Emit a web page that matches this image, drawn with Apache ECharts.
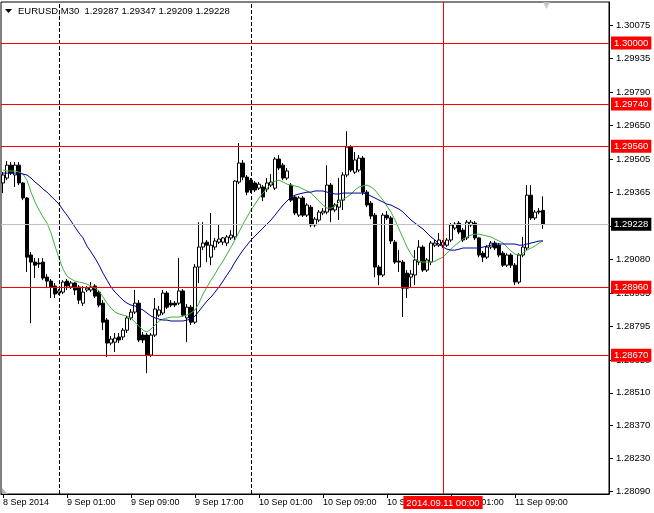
<!DOCTYPE html>
<html><head><meta charset="utf-8">
<script src="https://cdn.jsdelivr.net/npm/echarts@6/dist/echarts.min.js"></script>
<style>html,body{margin:0;padding:0;background:#fff}#c{width:654px;height:513px}</style>
</head><body><div id="c"></div>
<script>
// ---- data (EURUSD, M30, first bar 8 Sep 17:00) ----
const symbolTitle = 'EURUSD,M30  1.29287 1.29347 1.29209 1.29228';
const xTickCats   = ['8 Sep 17:00','9 Sep 01:00','9 Sep 09:00','9 Sep 17:00','10 Sep 01:00','10 Sep 09:00','10 Sep 17:00','11 Sep 01:00','11 Sep 09:00'];
const xTickLabels = ['8 Sep 2014','9 Sep 01:00','9 Sep 09:00','9 Sep 17:00','10 Sep 01:00','10 Sep 09:00','10 Sep 17:00','11 Sep 01:00','11 Sep 09:00'];
const yTicks = [1.30075,1.29935,1.29790,1.29650,1.29505,1.29365,1.29220,1.29080,1.28935,1.28795,1.28650,1.28510,1.28370,1.28230,1.28090];
const priceLevels = [1.30000,1.29740,1.29560,1.28960,1.28670];
const bidPrice = 1.29228;
const daySeparators = ['9 Sep 00:00','10 Sep 00:00'];
const crosshairCat = '11 Sep 00:00';
const crosshairLabel = '2014.09.11 00:00';

const open = [
1.29404,1.29425,1.29480,1.29438,1.29480,1.29404,1.29340,1.29097,1.29067,1.29063,
1.29067,1.29003,1.28986,1.28965,1.28935,1.28939,1.28986,1.28961,1.28978,1.28961,
1.28892,1.28948,1.28948,1.28965,1.28939,1.28892,1.28820,1.28722,1.28726,1.28748,
1.28748,1.28777,1.28829,1.28854,1.28892,1.28756,1.28756,1.28671,1.28756,1.28841,
1.28850,1.28935,1.28892,1.28892,1.28892,1.28944,1.28829,1.28875,1.28811,1.29046,
1.29131,1.29152,1.29088,1.29131,1.29152,1.29152,1.29148,1.29170,1.29174,1.29408,
1.29489,1.29429,1.29416,1.29404,1.29382,1.29387,1.29378,1.29395,1.29382,1.29506,
1.29480,1.29425,1.29395,1.29344,1.29267,1.29340,1.29267,1.29301,1.29225,1.29246,
1.29276,1.29280,1.29395,1.29289,1.29301,1.29331,1.29438,1.29557,1.29450,1.29459,
1.29510,1.29365,1.29318,1.29267,1.29046,1.29012,1.29267,1.29255,1.29152,1.29071,
1.29067,1.29020,1.29003,1.29012,1.29067,1.29131,1.29033,1.29067,1.29139,1.29139,
1.29139,1.29139,1.29161,1.29212,1.29233,1.29203,1.29170,1.29225,1.29233,1.29170,
1.29105,1.29088,1.29131,1.29148,1.29139,1.29105,1.29054,1.29097,1.29054,1.28982,
1.29097,1.29127,1.29352,1.29255,1.29284,1.29287];
const high = [
1.29450,1.29497,1.29493,1.29493,1.29493,1.29408,1.29344,1.29110,1.29084,1.29084,
1.29084,1.29016,1.28995,1.28978,1.28952,1.28990,1.28995,1.28986,1.28982,1.28969,
1.28965,1.28965,1.28982,1.28973,1.28948,1.28905,1.28829,1.28752,1.28765,1.28765,
1.28786,1.28837,1.28867,1.28948,1.28905,1.28769,1.28765,1.28765,1.28914,1.28880,
1.28948,1.28944,1.28905,1.28901,1.29084,1.28952,1.28888,1.28884,1.29059,1.29237,
1.29237,1.29161,1.29276,1.29170,1.29225,1.29174,1.29182,1.29203,1.29416,1.29574,
1.29502,1.29438,1.29425,1.29412,1.29408,1.29395,1.29425,1.29442,1.29514,1.29523,
1.29489,1.29468,1.29404,1.29352,1.29348,1.29348,1.29318,1.29310,1.29259,1.29289,
1.29297,1.29480,1.29404,1.29318,1.29425,1.29450,1.29625,1.29565,1.29536,1.29523,
1.29519,1.29374,1.29327,1.29276,1.29054,1.29276,1.29284,1.29263,1.29161,1.29118,
1.29076,1.29033,1.29033,1.29118,1.29161,1.29139,1.29084,1.29157,1.29161,1.29191,
1.29161,1.29170,1.29233,1.29237,1.29242,1.29212,1.29246,1.29246,1.29242,1.29174,
1.29114,1.29139,1.29157,1.29157,1.29148,1.29114,1.29105,1.29105,1.29063,1.29105,
1.29174,1.29395,1.29395,1.29289,1.29297,1.29347];
const low = [
1.29361,1.29416,1.29438,1.29387,1.29395,1.29331,1.29025,1.28807,1.28999,1.29042,
1.28990,1.28956,1.28914,1.28914,1.28927,1.28931,1.28948,1.28952,1.28927,1.28888,
1.28880,1.28939,1.28939,1.28914,1.28875,1.28777,1.28662,1.28713,1.28684,1.28722,
1.28735,1.28765,1.28820,1.28846,1.28726,1.28722,1.28594,1.28662,1.28748,1.28833,
1.28841,1.28867,1.28875,1.28875,1.28884,1.28833,1.28726,1.28799,1.28803,1.28978,
1.29118,1.29067,1.29054,1.29118,1.29144,1.29139,1.29135,1.29161,1.29161,1.29399,
1.29416,1.29352,1.29361,1.29365,1.29374,1.29327,1.29365,1.29387,1.29374,1.29459,
1.29416,1.29416,1.29323,1.29267,1.29259,1.29259,1.29259,1.29216,1.29216,1.29237,
1.29267,1.29271,1.29237,1.29280,1.29246,1.29289,1.29429,1.29450,1.29442,1.29450,
1.29352,1.29301,1.29250,1.29003,1.28969,1.29003,1.29246,1.29144,1.29059,1.29025,
1.28833,1.28914,1.28956,1.28969,1.29054,1.29025,1.29025,1.29054,1.29131,1.29131,
1.29127,1.29131,1.29152,1.29203,1.29186,1.29152,1.29161,1.29216,1.29161,1.29088,
1.29067,1.29080,1.29122,1.29118,1.29088,1.29046,1.29046,1.29042,1.28969,1.28973,
1.29088,1.29118,1.29246,1.29246,1.29271,1.29209];
const close = [
1.29438,1.29480,1.29446,1.29480,1.29404,1.29340,1.29088,1.29067,1.29054,1.29059,
1.28999,1.28986,1.28961,1.28931,1.28944,1.28982,1.28965,1.28978,1.28948,1.28905,
1.28939,1.28956,1.28961,1.28922,1.28884,1.28811,1.28722,1.28739,1.28743,1.28735,
1.28777,1.28829,1.28854,1.28892,1.28735,1.28735,1.28671,1.28756,1.28867,1.28863,
1.28935,1.28875,1.28884,1.28884,1.28944,1.28841,1.28875,1.28811,1.29046,1.29131,
1.29148,1.29139,1.29139,1.29157,1.29165,1.29170,1.29174,1.29182,1.29412,1.29489,
1.29429,1.29365,1.29374,1.29374,1.29399,1.29344,1.29404,1.29408,1.29506,1.29468,
1.29425,1.29455,1.29331,1.29276,1.29340,1.29267,1.29310,1.29225,1.29250,1.29280,
1.29284,1.29395,1.29289,1.29310,1.29331,1.29438,1.29557,1.29459,1.29502,1.29510,
1.29365,1.29310,1.29263,1.29046,1.29012,1.29267,1.29255,1.29157,1.29067,1.29067,
1.28956,1.28956,1.29016,1.29076,1.29131,1.29033,1.29076,1.29148,1.29148,1.29161,
1.29152,1.29161,1.29225,1.29229,1.29195,1.29161,1.29237,1.29237,1.29170,1.29097,
1.29088,1.29131,1.29148,1.29127,1.29097,1.29054,1.29097,1.29054,1.28982,1.29097,
1.29131,1.29352,1.29255,1.29280,1.29280,1.29228];
const maFast = [
1.29459,1.29455,1.29455,1.29455,1.29450,1.29442,1.29416,1.29365,1.29323,1.29289,
1.29259,1.29233,1.29191,1.29135,1.29084,1.29037,1.29007,1.28995,1.28986,1.28982,
1.28978,1.28973,1.28965,1.28956,1.28944,1.28918,1.28892,1.28871,1.28854,1.28846,
1.28841,1.28837,1.28829,1.28811,1.28794,1.28777,1.28769,1.28782,1.28799,1.28816,
1.28824,1.28829,1.28833,1.28833,1.28833,1.28837,1.28841,1.28850,1.28863,1.28892,
1.28931,1.28961,1.28990,1.29016,1.29046,1.29071,1.29101,1.29131,1.29161,1.29195,
1.29229,1.29259,1.29289,1.29314,1.29340,1.29361,1.29382,1.29399,1.29412,1.29416,
1.29408,1.29399,1.29395,1.29391,1.29387,1.29378,1.29370,1.29361,1.29344,1.29327,
1.29310,1.29297,1.29297,1.29305,1.29323,1.29335,1.29344,1.29357,1.29374,1.29387,
1.29391,1.29395,1.29387,1.29374,1.29352,1.29331,1.29305,1.29280,1.29246,1.29208,
1.29170,1.29131,1.29101,1.29080,1.29071,1.29067,1.29067,1.29067,1.29071,1.29080,
1.29088,1.29105,1.29122,1.29139,1.29152,1.29165,1.29174,1.29182,1.29186,1.29186,
1.29182,1.29178,1.29174,1.29165,1.29157,1.29148,1.29131,1.29114,1.29101,1.29097,
1.29105,1.29118,1.29127,1.29135,1.29148,1.29157];
const maSlow = [
1.29446,1.29446,1.29446,1.29446,1.29446,1.29442,1.29438,1.29425,1.29408,1.29395,
1.29378,1.29365,1.29348,1.29331,1.29314,1.29289,1.29267,1.29242,1.29216,1.29191,
1.29170,1.29135,1.29110,1.29084,1.29054,1.29020,1.28990,1.28961,1.28939,1.28922,
1.28905,1.28892,1.28884,1.28880,1.28871,1.28863,1.28850,1.28837,1.28829,1.28824,
1.28820,1.28820,1.28816,1.28816,1.28816,1.28816,1.28820,1.28824,1.28837,1.28858,
1.28880,1.28901,1.28918,1.28939,1.28961,1.28986,1.29012,1.29037,1.29067,1.29093,
1.29118,1.29139,1.29161,1.29178,1.29195,1.29212,1.29229,1.29246,1.29267,1.29289,
1.29310,1.29327,1.29344,1.29352,1.29357,1.29361,1.29365,1.29365,1.29370,1.29370,
1.29370,1.29365,1.29361,1.29357,1.29357,1.29361,1.29361,1.29361,1.29361,1.29361,
1.29361,1.29357,1.29348,1.29340,1.29331,1.29323,1.29314,1.29310,1.29301,1.29293,
1.29280,1.29263,1.29246,1.29233,1.29220,1.29208,1.29191,1.29174,1.29161,1.29144,
1.29131,1.29122,1.29118,1.29118,1.29122,1.29127,1.29127,1.29127,1.29127,1.29127,
1.29131,1.29135,1.29139,1.29144,1.29144,1.29144,1.29144,1.29144,1.29144,1.29139,
1.29139,1.29144,1.29148,1.29152,1.29157,1.29157];

// ---- build the category axis: 30-minute bars plus empty right-hand shift ----
const totalSlots = 152;
const categories = [];
for (let i = 0; i < totalSlots; i++) {
  const m = 17 * 60 + 30 * i;
  const day = 8 + Math.floor(m / 1440);
  const mm = m % 1440;
  const hh = String(Math.floor(mm / 60)).padStart(2, '0');
  const mi = String(mm % 60).padStart(2, '0');
  categories.push(day + ' Sep ' + hh + ':' + mi);
}
const candleData = open.map((o, i) => [o, close[i], low[i], high[i]]);
const tickIdx = xTickCats.map(c => categories.indexOf(c));

const FONT = '"Liberation Sans", Arial, sans-serif';
const RED_LINE = '#ff0000';
const boxLabel = (bg) => ({
  show: true, position: 'end', distance: 2,
  formatter: p => Number(p.value).toFixed(5),
  color: '#fff', backgroundColor: bg, padding: [2, 3, 1, 3],
  fontFamily: FONT, fontSize: 9.5
});
const hLine = (v, color, labelBg) => ({
  yAxis: v,
  lineStyle: {color: color, type: 'solid', width: 1, opacity: 1},
  label: boxLabel(labelBg),
  emphasis: {disabled: true}
});

const chart = echarts.init(document.getElementById('c'), null, {renderer: 'canvas'});
chart.setOption({
  animation: false,
  backgroundColor: '#ffffff',
  title: {
    text: symbolTitle, left: 18, top: 6, padding: 0,
    textStyle: {fontFamily: FONT, fontSize: 9.5, fontWeight: 'normal', color: '#000'}
  },
  graphic: [
    {type: 'polygon', shape: {points: [[5, 9], [12, 9], [8.5, 13]]}, style: {fill: '#000'}, z: 10},
    {type: 'text', left: 543, top: 1, style: {text: '\u25BC', fill: '#c8c8c8', font: '9px "DejaVu Sans"'}},
    {type: 'polygon', shape: {points: [[2, 488], [2, 494], [8, 494]]}, style: {fill: '#b4b4b4'}, z: 10}
  ],
  grid: {left: 1, right: 45, top: 2, bottom: 19, show: true, borderColor: '#000', borderWidth: 1, backgroundColor: '#fff'},
  xAxis: {
    type: 'category', data: categories, boundaryGap: true,
    axisLine: {lineStyle: {color: '#000', width: 1}},
    axisTick: {show: true, alignWithLabel: true, length: 4, interval: (i) => tickIdx.includes(i), lineStyle: {color: '#000'}},
    axisLabel: {
      interval: (i) => tickIdx.includes(i),
      formatter: (v, i) => { const k = tickIdx.indexOf(i); return k >= 0 ? xTickLabels[k] : ''; },
      align: 'left', margin: 4, color: '#000', fontFamily: FONT, fontSize: 9, hideOverlap: false
    },
    splitLine: {show: false}
  },
  yAxis: {
    type: 'value', position: 'right', scale: true,
    min: 1.28079, max: 1.30175,
    axisLine: {show: true, lineStyle: {color: '#000', width: 1}},
    axisTick: {show: true, length: 4, customValues: yTicks, lineStyle: {color: '#000'}},
    axisLabel: {customValues: yTicks, formatter: v => v.toFixed(5), margin: 7, color: '#000', fontFamily: FONT, fontSize: 9.5},
    splitLine: {show: false}
  },
  series: [
    {
      // carrier series for the chart objects (separators, price levels, bid line, crosshair)
      type: 'line', name: 'objects', data: [], z: 1, silent: true,
      itemStyle: {color: RED_LINE}, lineStyle: {color: RED_LINE},
      markLine: {
        silent: true, symbol: ['none', 'none'], animation: false, precision: 5,
        emphasis: {disabled: true},
        data: [
          ...daySeparators.map(c => ({xAxis: c, lineStyle: {color: '#000000', type: [4, 2], width: 1}, label: {show: false}})),
          hLine(bidPrice, '#c0c0c0', '#000000'),
          ...priceLevels.map(v => hLine(v, RED_LINE, '#ff0000')),
          {xAxis: crosshairCat, lineStyle: {color: RED_LINE, type: 'solid', width: 1},
           emphasis: {disabled: true},
           label: {show: true, position: 'start', distance: 2, formatter: crosshairLabel, color: '#fff', backgroundColor: '#ff0000',
                   padding: [2, 3, 1, 3], fontFamily: FONT, fontSize: 9.5}}
        ]
      }
    },
    {
      type: 'candlestick', name: 'EURUSD', data: candleData, barWidth: 3, z: 3,
      itemStyle: {color: '#ffffff', color0: '#000000', borderColor: '#000000', borderColor0: '#000000', borderWidth: 1}
    },
    {type: 'line', name: 'MA fast', data: maFast, showSymbol: false, symbol: 'none', lineStyle: {color: '#3cb43c', width: 1}, z: 4},
    {type: 'line', name: 'MA slow', data: maSlow, showSymbol: false, symbol: 'none', lineStyle: {color: '#000096', width: 1}, z: 4}
  ]
});
</script>
</body></html>
